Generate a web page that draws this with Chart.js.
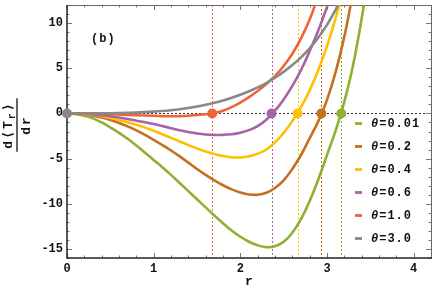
<!DOCTYPE html>
<html>
<head>
<meta charset="utf-8">
<script src="https://cdn.jsdelivr.net/npm/chart.js@4.4.1/dist/chart.umd.min.js"></script>
<style>
  html, body { margin: 0; padding: 0; background: #fff; }
  #grafica { display: block; }
</style>
</head>
<body>
<canvas id="grafica" width="436" height="294"></canvas>
<script>
// Valores: r y d<T_r>/dr para cada theta
const rTheta001 = [0, 0.1, 0.2, 0.3, 0.4, 0.5, 0.6, 0.7, 0.8, 0.9, 1.0, 1.1, 1.2, 1.3, 1.4, 1.5, 1.6, 1.7, 1.8, 1.9, 2.0, 2.1, 2.2, 2.3, 2.4, 2.5, 2.6, 2.7, 2.8, 2.9, 3.0, 3.1, 3.2, 3.3, 3.4, 3.5];
const dTheta001 = [0, -0.05, -0.25, -0.55, -1.0, -1.55, -2.15, -2.8, -3.55, -4.35, -5.15, -5.95, -6.8, -7.7, -8.6, -9.5, -10.4, -11.3, -12.15, -12.95, -13.65, -14.2, -14.6, -14.8, -14.7, -14.2, -13.2, -11.7, -9.7, -7.3, -4.6, -1.9, 1.3, 5.3, 10.5, 16.5];

const rTheta02 = [0, 0.1, 0.2, 0.3, 0.4, 0.5, 0.6, 0.7, 0.8, 0.9, 1.0, 1.1, 1.2, 1.3, 1.4, 1.5, 1.6, 1.7, 1.8, 1.9, 2.0, 2.1, 2.2, 2.3, 2.4, 2.5, 2.6, 2.7, 2.8, 2.9, 3.0, 3.1, 3.2, 3.3];
const dTheta02 = [0, -0.02, -0.1, -0.25, -0.45, -0.72, -1.05, -1.43, -1.88, -2.38, -2.92, -3.5, -4.1, -4.75, -5.45, -6.15, -6.8, -7.4, -7.95, -8.4, -8.75, -8.97, -9.0, -8.78, -8.25, -7.4, -6.15, -4.6, -2.75, -0.85, 1.5, 4.6, 8.5, 13.4];

const rTheta04 = [0, 0.1, 0.2, 0.3, 0.4, 0.5, 0.6, 0.7, 0.8, 0.9, 1.0, 1.1, 1.2, 1.3, 1.4, 1.5, 1.6, 1.7, 1.8, 1.9, 2.0, 2.1, 2.2, 2.3, 2.4, 2.5, 2.6, 2.7, 2.8, 2.9, 3.0, 3.1, 3.2];
const dTheta04 = [0, -0.01, -0.06, -0.15, -0.3, -0.5, -0.72, -0.97, -1.25, -1.57, -1.92, -2.3, -2.7, -3.1, -3.5, -3.88, -4.22, -4.5, -4.72, -4.85, -4.87, -4.75, -4.45, -4.0, -3.2, -2.15, -0.85, 0.7, 2.55, 4.8, 7.45, 10.55, 14.1];

const rTheta06 = [0, 0.1, 0.2, 0.3, 0.4, 0.5, 0.6, 0.7, 0.8, 0.9, 1.0, 1.1, 1.2, 1.3, 1.4, 1.5, 1.6, 1.7, 1.8, 1.9, 2.0, 2.1, 2.2, 2.3, 2.4, 2.5, 2.6, 2.7, 2.8, 2.9, 3.0, 3.1];
const dTheta06 = [0, -0.01, -0.04, -0.1, -0.2, -0.32, -0.46, -0.62, -0.8, -0.98, -1.17, -1.4, -1.63, -1.86, -2.06, -2.22, -2.33, -2.38, -2.37, -2.3, -2.13, -1.85, -1.4, -0.7, 0.3, 1.55, 3.05, 4.8, 6.9, 9.2, 11.8, 14.7];

const rTheta10 = [0, 0.2, 0.4, 0.6, 0.8, 1.0, 1.1, 1.2, 1.3, 1.4, 1.5, 1.6, 1.7, 1.8, 1.9, 2.0, 2.1, 2.2, 2.3, 2.4, 2.5, 2.6, 2.7, 2.8, 2.9];
const dTheta10 = [0, -0.01, -0.05, -0.12, -0.2, -0.26, -0.3, -0.32, -0.3, -0.25, -0.17, -0.1, 0.04, 0.3, 0.7, 1.2, 1.8, 2.48, 3.25, 4.15, 5.25, 6.6, 8.3, 10.4, 13.0];

const rTheta30 = [0, 0.2, 0.4, 0.6, 0.8, 1.0, 1.1, 1.2, 1.3, 1.4, 1.5, 1.6, 1.7, 1.8, 1.9, 2.0, 2.1, 2.2, 2.3, 2.4, 2.5, 2.6, 2.7, 2.8, 2.9, 3.0, 3.1, 3.2];
const dTheta30 = [0, 0.0, 0.01, 0.04, 0.1, 0.2, 0.27, 0.36, 0.47, 0.6, 0.76, 0.95, 1.17, 1.43, 1.73, 2.07, 2.45, 2.88, 3.36, 3.95, 4.6, 5.35, 6.2, 7.2, 8.4, 9.8, 11.5, 13.4];

// Ceros de cada curva (puntos marcados y líneas verticales)
const ceros = [3.165, 2.935, 2.66, 2.36, 1.675, 0];

const etiquetas = ['θ=0.01', 'θ=0.2', 'θ=0.4', 'θ=0.6', 'θ=1.0', 'θ=3.0'];
const ticksX = [0, 1, 2, 3, 4];
const ticksY = [-15, -10, -5, 0, 5, 10];

const colores = ['#8fb032', '#c4701e', '#ffc000', '#a862a8', '#f0643a', '#888888'];
const seriesR = [rTheta001, rTheta02, rTheta04, rTheta06, rTheta10, rTheta30];
const seriesD = [dTheta001, dTheta02, dTheta04, dTheta06, dTheta10, dTheta30];

const fuente = "'Liberation Mono', 'DejaVu Sans Mono', monospace";

// Curvas y puntos de los ceros
const datasets = [];
seriesR.forEach((r, i) => {
    datasets.push({
        label: etiquetas[i],
        data: r.map((x, k) => ({ x: x, y: seriesD[i][k] })),
        showLine: true,
        borderColor: colores[i],
        borderWidth: 2.6,
        pointRadius: 0,
        tension: 0.4,
        fill: false,
        order: 10 - i
    });
});
seriesR.forEach((r, i) => {
    datasets.push({
        label: 'cero ' + etiquetas[i],
        data: [{ x: ceros[i], y: 0 }],
        showLine: false,
        pointRadius: 5,
        pointBackgroundColor: colores[i],
        pointBorderWidth: 0,
        clip: false,
        order: 0
    });
});

// Guías punteadas, marco con marcas hacia dentro
const guias = {
    id: 'guias',
    beforeDatasetsDraw(chart) {
        const { ctx, chartArea: a, scales: { x, y } } = chart;
        ctx.save();
        ctx.lineWidth = 1;
        ctx.setLineDash([2, 2]);
        ceros.forEach((c, i) => {
            if (c <= 0) return;
            const px = Math.round(x.getPixelForValue(c)) + 0.5;
            ctx.strokeStyle = colores[i];
            ctx.beginPath();
            ctx.moveTo(px, a.top);
            ctx.lineTo(px, a.bottom);
            ctx.stroke();
        });
        const py0 = Math.round(y.getPixelForValue(0)) + 0.5;
        ctx.strokeStyle = '#333';
        ctx.beginPath();
        ctx.moveTo(a.left, py0);
        ctx.lineTo(a.right, py0);
        ctx.stroke();
        ctx.setLineDash([]);

        // marcas del marco
        ctx.strokeStyle = '#777';
        ctx.lineWidth = 1;
        for (let v = 0; v <= 4.2001; v += 0.2) {
            const px = Math.round(x.getPixelForValue(v)) + 0.5;
            const mayor = Math.abs(v - Math.round(v)) < 1e-6;
            const l = mayor ? 5 : 2.5;
            ctx.beginPath();
            ctx.moveTo(px, a.bottom); ctx.lineTo(px, a.bottom - l);
            ctx.moveTo(px, a.top); ctx.lineTo(px, a.top + l);
            ctx.stroke();
        }
        for (let v = -16; v <= 12; v += 1) {
            const py = Math.round(y.getPixelForValue(v)) + 0.5;
            const l = v % 5 === 0 ? 5 : 2.5;
            ctx.beginPath();
            ctx.moveTo(a.left, py); ctx.lineTo(a.left + l, py);
            ctx.moveTo(a.right, py); ctx.lineTo(a.right - l, py);
            ctx.stroke();
        }
        // lados superior y derecho
        ctx.strokeStyle = '#666';
        ctx.beginPath();
        ctx.moveTo(a.left, a.top + 0.5); ctx.lineTo(a.right + 0.5, a.top + 0.5);
        ctx.lineTo(a.right + 0.5, a.bottom);
        ctx.stroke();
        // ejes izquierdo e inferior
        ctx.strokeStyle = '#222';
        ctx.lineWidth = 1.5;
        ctx.beginPath();
        ctx.moveTo(a.left, a.top); ctx.lineTo(a.left, a.bottom);
        ctx.lineTo(a.right + 1, a.bottom);
        ctx.stroke();
        ctx.restore();
    },
    afterDraw(chart) {
        const { ctx } = chart;
        ctx.save();
        ctx.fillStyle = '#111';

        // leyenda
        ctx.textBaseline = 'middle';
        etiquetas.forEach((t, i) => {
            const yy = 123.5 + i * 23;
            ctx.strokeStyle = colores[i];
            ctx.lineWidth = 2.8;
            ctx.beginPath();
            ctx.moveTo(355, yy); ctx.lineTo(362, yy);
            ctx.stroke();
            ctx.fillStyle = '#111';
            ctx.letterSpacing = '1px';
            ctx.font = 'italic bold 12px ' + fuente;
            ctx.fillText(t.charAt(0), 371, yy);
            const w0 = ctx.measureText(t.charAt(0)).width;
            ctx.font = 'bold 12px ' + fuente;
            ctx.fillText(t.slice(1), 371 + w0, yy);
        });

        // (b)
        ctx.font = 'bold 12px ' + fuente;
        ctx.fillText('(b)', 91, 39);

        // título del eje y: fracción d<T_r>/dr girada
        ctx.translate(17, 125);
        ctx.rotate(-Math.PI / 2);
        ctx.textBaseline = 'alphabetic';
        ctx.letterSpacing = '2px';
        const p1 = 'd⟨T';
        const p3 = '⟩';
        ctx.font = 'bold 13px ' + fuente;
        const w1 = ctx.measureText(p1).width;
        const w3 = ctx.measureText(p3).width;
        ctx.font = 'bold 10px ' + fuente;
        const w2 = ctx.measureText('r').width;
        const total = w1 + w2 + w3;
        let xx = -total / 2;
        ctx.font = 'bold 13px ' + fuente;
        ctx.fillText(p1, xx, -5);
        xx += w1;
        ctx.font = 'bold 10px ' + fuente;
        ctx.fillText('r', xx, -2);
        xx += w2;
        ctx.font = 'bold 13px ' + fuente;
        ctx.fillText(p3, xx, -5);
        ctx.strokeStyle = '#111';
        ctx.lineWidth = 1.3;
        ctx.beginPath();
        ctx.moveTo(-total / 2 - 3, 0); ctx.lineTo(total / 2 + 3, 0);
        ctx.stroke();
        ctx.textAlign = 'center';
        ctx.fillText('dr', 0, 13);
        ctx.restore();
    }
};

const ctx = document.getElementById('grafica').getContext('2d');
new Chart(ctx, {
    type: 'scatter',
    data: { datasets: datasets },
    options: {
        responsive: false,
        animation: false,
        layout: { padding: { top: 2, right: 4, left: 0, bottom: 0 } },
        plugins: {
            legend: { display: false },
            tooltip: { enabled: false }
        },
        scales: {
            x: {
                type: 'linear',
                min: 0,
                max: 4.2,
                grid: { display: false, drawTicks: false },
                border: { display: false },
                afterBuildTicks: s => { s.ticks = ticksX.map(v => ({ value: v })); },
                afterFit: s => { s.height = 36; s.paddingLeft = 0; s.paddingRight = 0; },
                ticks: {
                    padding: 4,
                    color: '#111',
                    font: { family: fuente, size: 12, weight: 'bold' }
                },
                title: {
                    display: true,
                    text: 'r',
                    color: '#111',
                    padding: { top: 2 },
                    font: { family: fuente, size: 13, weight: 'bold' }
                }
            },
            y: {
                type: 'linear',
                min: -16,
                max: 12,
                grid: { display: false, drawTicks: false },
                border: { display: false },
                afterBuildTicks: s => { s.ticks = ticksY.map(v => ({ value: v })); },
                afterFit: s => { s.width = 67; s.paddingTop = 0; s.paddingBottom = 0; },
                ticks: {
                    padding: 4,
                    color: '#111',
                    font: { family: fuente, size: 12, weight: 'bold' },
                    callback: v => v < 0 ? '-' + Math.abs(v) : String(v)
                }
            }
        }
    },
    plugins: [guias]
});
</script>
</body>
</html>
